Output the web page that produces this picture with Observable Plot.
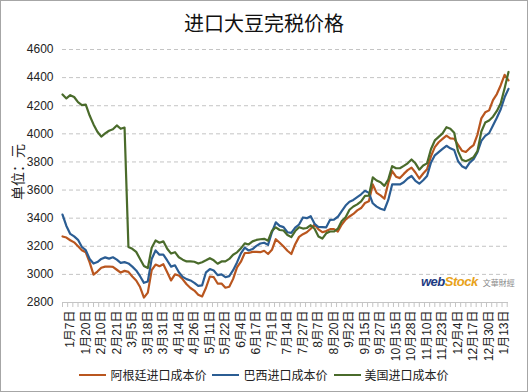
<!DOCTYPE html>
<html>
<head>
<meta charset="utf-8">
<script src="https://cdn.jsdelivr.net/npm/d3@7"></script>
<script src="https://cdn.jsdelivr.net/npm/@observablehq/plot@0.6"></script>
<style>
  body { margin: 0; background: #fff; }
  #wrap { position: relative; width: 528px; height: 392px; overflow: hidden; background: #fff;
          font-family: "Liberation Sans", "Noto Sans CJK SC", sans-serif; }
  #frame { position: absolute; left: 0; top: 0; width: 528px; height: 392px; box-sizing: border-box;
           border: 1px solid #a6a6a6; pointer-events: none; }
  #title { position: absolute; left: 0; top: 0; width: 528px; height: 40px; line-height: 46px; text-align: center;
           font-family: "Noto Sans CJK SC", sans-serif; font-size: 20px; color: #111; }
  #chart { position: absolute; left: 0; top: 40px; }
  #ylab { position: absolute; left: 17px; top: 172px; transform: translate(-50%, -50%) rotate(-90deg);
          font-family: "Noto Sans CJK SC", sans-serif; font-size: 14px; color: #222; white-space: nowrap; }
  #legend { position: absolute; left: 0; top: 366px; width: 528px; display: flex; justify-content: center; align-items: center;
            font-family: "Noto Sans CJK SC", sans-serif; font-size: 12px; color: #222; }
  .item { display: flex; align-items: center; margin: 0 3px; }
  .sw { width: 27px; height: 2px; margin-right: 4px; }
  #logo { position: absolute; left: 421px; top: 272px; white-space: nowrap; }
  #logo .w { font-family: "Liberation Sans", sans-serif; font-weight: bold; font-style: italic; font-size: 13px; color: #1d3b82; letter-spacing: -0.5px; }
  #logo .s { font-family: "Liberation Sans", sans-serif; font-weight: bold; font-style: italic; font-size: 13px; color: #e8a21a; letter-spacing: -0.5px; }
  #logo .c { font-family: "Noto Sans CJK TC", sans-serif; font-size: 8px; color: #888; margin-left: 5px; }
</style>
</head>
<body>
<div id="wrap">
  <div id="title">进口大豆完税价格</div>
  <div id="chart"></div>
  <div id="ylab">单位：元</div>
  <div id="logo"><span class="w">web</span><span class="s">Stock</span><span class="c">文華財經</span></div>
  <div id="legend"></div>
  <div id="frame"></div>
</div>
<script>
// Tick labels (every 4th trading-day point starting at index 2)
const tickLabels = ["1月7日","1月20日","2月10日","2月21日","3月5日","3月18日","3月31日","4月14日","4月26日","5月11日","5月22日","6月4日","6月17日","7月1日","7月14日","7月27日","8月7日","8月20日","9月2日","9月15日","9月27日","10月15日","10月28日","11月10日","11月23日","12月4日","12月17日","12月30日","1月13日"];

const seriesNames = ["阿根廷进口成本价", "巴西进口成本价", "美国进口成本价"];
const seriesColors = ["#b9561f", "#2b5d93", "#4a6b2b"];

const argentina = [3270,3262,3243,3228,3200,3172,3157,3085,2998,3020,3047,3055,3056,3053,3033,3013,3025,3018,2985,2957,
  2910,2835,2870,3030,3070,3058,3072,3016,2957,3000,2992,2965,2930,2903,2885,2855,2843,2905,2985,2980,
  2935,2935,2905,2912,2968,3050,3090,3152,3152,3160,3160,3158,3168,3145,3175,3250,3225,3198,3168,3145,
  3215,3267,3286,3300,3325,3355,3320,3300,3308,3322,3322,3305,3355,3390,3412,3430,3455,3472,3508,3520,
  3640,3580,3562,3538,3650,3735,3695,3685,3715,3742,3760,3725,3682,3718,3748,3840,3905,3940,3964,3987,
  3968,3965,3922,3880,3871,3898,3920,3995,4110,4153,4167,4240,4283,4346,4420,4380];

const brazil = [3425,3345,3288,3270,3246,3195,3172,3110,3077,3088,3110,3121,3112,3122,3105,3082,3087,3078,3055,3028,
  2987,2940,2950,3110,3170,3140,3140,3099,3055,3065,3015,2982,2966,2957,2940,2918,2922,3015,3038,3028,
  2995,3000,2980,2988,3030,3085,3150,3190,3170,3180,3203,3220,3225,3210,3300,3370,3345,3336,3300,3295,
  3333,3355,3405,3400,3414,3360,3337,3336,3335,3388,3390,3410,3450,3490,3517,3530,3550,3570,3595,3580,
  3506,3482,3467,3458,3530,3640,3640,3640,3655,3682,3700,3665,3645,3670,3700,3795,3847,3870,3893,3915,
  3897,3885,3805,3770,3755,3795,3820,3870,3950,3985,4005,4060,4115,4175,4260,4320];

const usa = [4280,4252,4275,4262,4225,4204,4208,4130,4067,4015,3980,4003,4022,4032,4060,4036,4045,3195,3182,3160,
  3110,3060,3045,3190,3241,3225,3235,3182,3148,3158,3122,3105,3092,3093,3090,3077,3087,3100,3115,3100,
  3076,3092,3093,3110,3140,3157,3185,3221,3213,3235,3245,3250,3253,3240,3310,3335,3316,3312,3280,3265,
  3308,3336,3326,3330,3350,3325,3270,3255,3292,3305,3305,3325,3380,3407,3460,3483,3498,3520,3558,3560,
  3690,3668,3656,3630,3675,3770,3755,3755,3772,3790,3818,3790,3745,3775,3790,3890,3953,3978,4003,4047,
  4036,4008,3875,3816,3805,3817,3834,3878,4017,4080,4095,4122,4163,4218,4325,4440];

const yTicks = [2800,3000,3200,3400,3600,3800,4000,4200,4400,4600];

const seriesValues = [argentina, brazil, usa];
const rows = seriesValues.flatMap((vals, s) => vals.map((v, i) => ({i, v, s: seriesNames[s]})));
const n = argentina.length;
const labelIdx = tickLabels.map((_, k) => 2 + 4 * k);
const labelMap = new Map(labelIdx.map((x, k) => [x, tickLabels[k]]));
const minorTicks = d3.range(0, n - 0.5, 4 / 3);

const chart = Plot.plot({
  width: 528,
  height: 325,
  marginTop: 9,
  marginBottom: 63,
  marginLeft: 62,
  marginRight: 20,
  style: {fontFamily: "'Liberation Sans', 'Noto Sans CJK SC', sans-serif", fontSize: "12px", color: "#222", background: "transparent"},
  x: {domain: [0, n - 1], axis: null, label: null},
  y: {domain: [2800, 4600], axis: null, label: null},
  color: {domain: seriesNames, range: seriesColors},
  marks: [
    Plot.gridY(yTicks.filter(t => t > 2800), {stroke: "#c4c4c4", strokeOpacity: 1, strokeDasharray: "4,3"}),
    Plot.axisY(yTicks, {label: null, tickSize: 0, tickPadding: 9, tickFormat: d => String(d), fontSize: 12, fill: "#222"}),
    Plot.ruleY([2800], {stroke: "#c4c4c4"}),
    Plot.axisX(minorTicks, {label: null, tickSize: 5, stroke: "#c4c4c4", tickFormat: () => ""}),
    Plot.axisX(labelIdx, {label: null, tickSize: 0, tickPadding: 8, tickRotate: -90, tickFormat: d => labelMap.get(d), fontSize: 12, fill: "#222"}),
    Plot.lineY(rows, {x: "i", y: "v", z: "s", stroke: "s", strokeWidth: 2.2, strokeLinejoin: "round"})
  ]
});
document.getElementById("chart").appendChild(chart);

const legend = document.getElementById("legend");
seriesNames.forEach((name, k) => {
  const it = document.createElement("div");
  it.className = "item";
  it.innerHTML = `<span class="sw" style="background:${seriesColors[k]}"></span><span>${name}</span>`;
  legend.appendChild(it);
});
</script>
</body>
</html>
